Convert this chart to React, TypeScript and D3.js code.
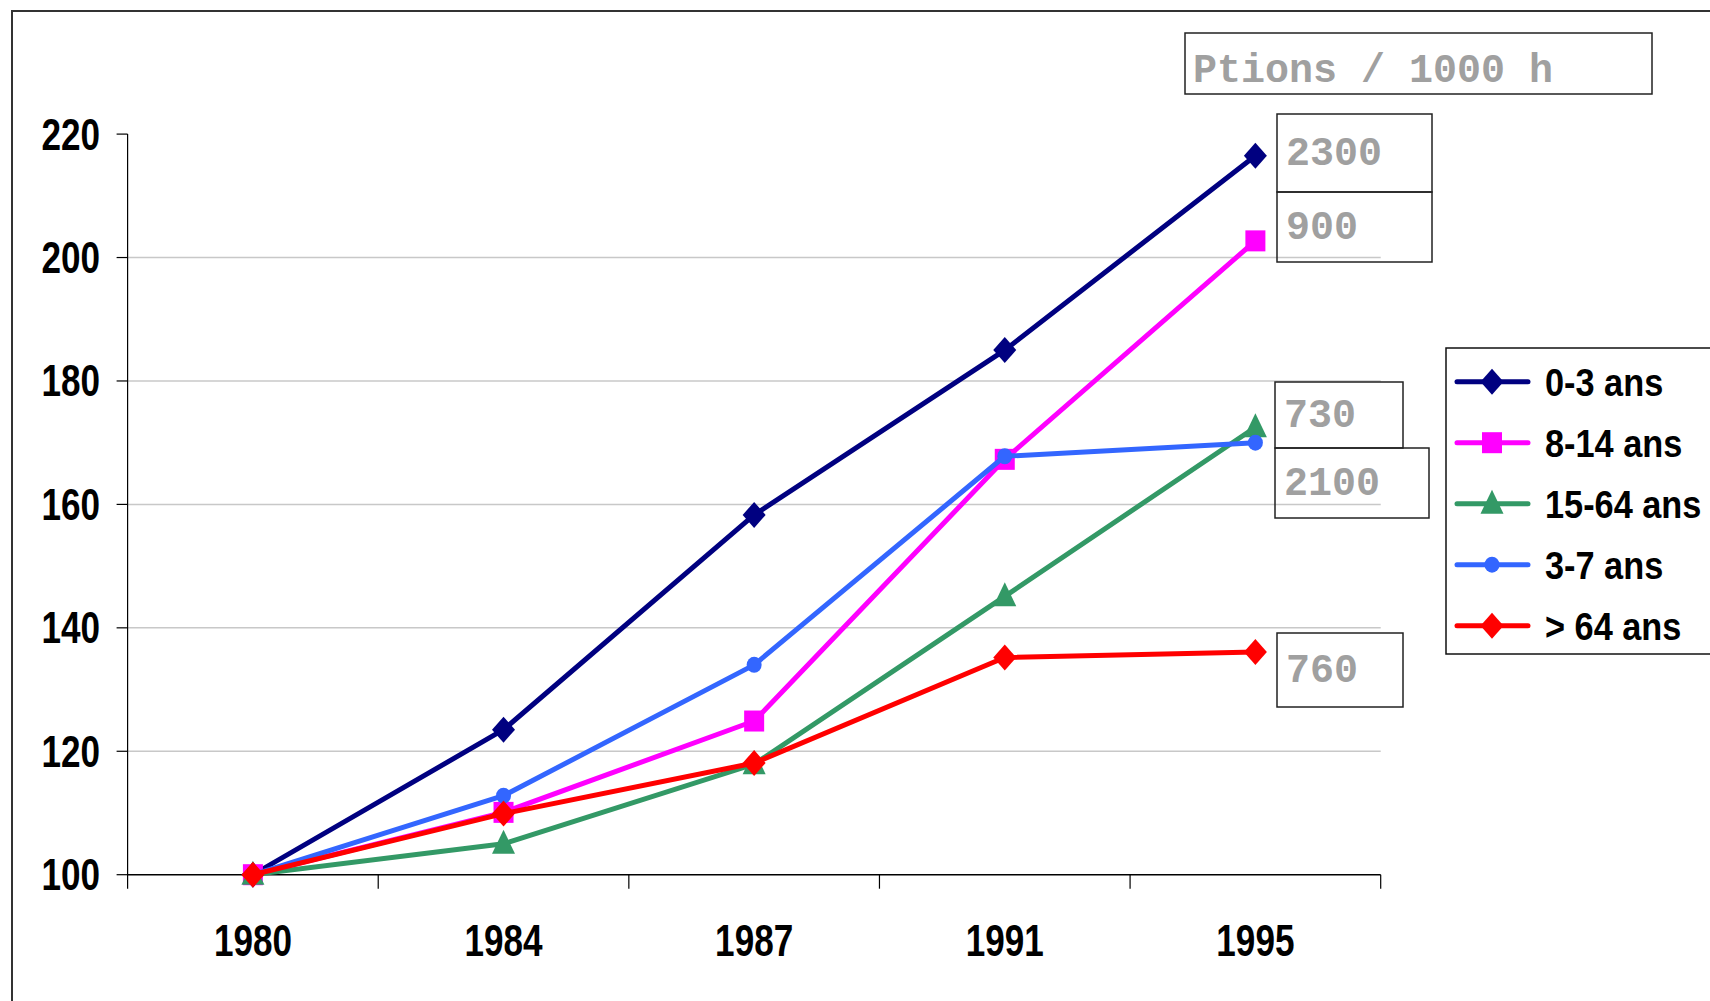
import React, { useEffect, useRef } from 'react';
import * as d3 from 'd3';

// data (index, 1980 = 100)
const years = ['1980', '1984', '1987', '1991', '1995'];
const seriesNames = ['0-3 ans', '8-14 ans', '15-64 ans', '3-7 ans', '> 64 ans'];
const age0to3 = [100, 123.5, 158.3, 185.0, 216.5];
const age8to14 = [100, 110.1, 124.9, 167.3, 202.7];
const age15to64 = [100, 105.0, 117.9, 145.1, 172.5];
const age3to7 = [100, 112.8, 134.0, 167.8, 170.0];
const age64plus = [100, 109.9, 118.1, 135.2, 136.1];
const yTicks = [100, 120, 140, 160, 180, 200, 220];
const unitLabel = 'Ptions / 1000 h';
const endLabels = ['2300', '900', '730', '2100', '760'];

const colors = ['#000080', '#FF00FF', '#339966', '#3366FF', '#FF0000'];
const markers = ['diamond', 'square', 'triangle', 'circle', 'diamond'];

// label box layout (x, y, w, h)
const labelBoxes = [
    [1277, 114, 155, 78],
    [1277, 192, 155, 70],
    [1275, 382, 128, 66],
    [1275, 448, 154, 70],
    [1277, 633, 126, 74],
];

// no narrow font installed: squeeze Liberation Sans bold horizontally
const sans = "'Liberation Sans', Arial, sans-serif";
const mono = "'Liberation Mono', 'Courier New', 'DejaVu Sans Mono', monospace";

const narrowText = (g, x, y, txt, size, squeeze, anchor) => g.append('text')
    .attr('transform', `translate(${x},${y}) scale(${squeeze},1)`)
    .attr('text-anchor', anchor)
    .attr('font-family', sans)
    .attr('font-weight', 'bold')
    .attr('font-size', size)
    .attr('fill', '#000')
    .text(txt);

const drawMarker = (g, type, x, y, color) => {
    if (type === 'diamond') {
        g.append('path')
            .attr('d', `M${x},${y - 13}L${x + 11.5},${y}L${x},${y + 13}L${x - 11.5},${y}Z`)
            .attr('fill', color);
    } else if (type === 'square') {
        g.append('rect')
            .attr('x', x - 10).attr('y', y - 10.5)
            .attr('width', 20).attr('height', 21)
            .attr('fill', color);
    } else if (type === 'triangle') {
        g.append('path')
            .attr('d', `M${x},${y - 14}L${x + 11.5},${y + 10}L${x - 11.5},${y + 10}Z`)
            .attr('fill', color);
    } else {
        g.append('ellipse')
            .attr('cx', x).attr('cy', y)
            .attr('rx', 7.5).attr('ry', 8)
            .attr('fill', color);
    }
};

const App = () => {
    const svgRef = useRef();
    const width = 1710;
    const height = 1001;
    const plot = { left: 127.6, right: 1380.7, top: 134.1, bottom: 874.7 };

    useEffect(() => {
        const series = [age0to3, age8to14, age15to64, age3to7, age64plus];

        const x = d3.scaleBand()
            .domain(years)
            .range([plot.left, plot.right])
            .padding(0);

        const y = d3.scaleLinear()
            .domain([100, 220])
            .range([plot.bottom, plot.top]);

        const svg = d3.select(svgRef.current)
            .attr('width', width)
            .attr('height', height);

        svg.selectAll('*').remove();

        svg.append('rect')
            .attr('width', width).attr('height', height)
            .attr('fill', '#ffffff');

        // outer frame
        svg.append('rect')
            .attr('x', 12).attr('y', 11)
            .attr('width', 1720).attr('height', 1010)
            .attr('fill', 'none')
            .attr('stroke', '#333333')
            .attr('stroke-width', 2);

        // gridlines
        svg.append('g')
            .selectAll('line')
            .data(yTicks.filter(t => t > 100 && t < 220))
            .enter()
            .append('line')
            .attr('x1', plot.left).attr('x2', plot.right)
            .attr('y1', d => y(d)).attr('y2', d => y(d))
            .attr('stroke', '#c8c8c8')
            .attr('stroke-width', 1.5);

        // y axis
        const yAxis = svg.append('g');
        yTicks.forEach(t => {
            yAxis.append('line')
                .attr('x1', plot.left - 11).attr('x2', plot.left)
                .attr('y1', y(t)).attr('y2', y(t))
                .attr('stroke', '#000').attr('stroke-width', 1.2);
            narrowText(yAxis, 100, y(t) + 15.5, d3.format('d')(t), 45, 0.78, 'end');
        });
        svg.append('line')
            .attr('x1', plot.left).attr('x2', plot.left)
            .attr('y1', plot.top).attr('y2', plot.bottom + 14)
            .attr('stroke', '#000').attr('stroke-width', 1.2);

        // x axis with ticks between categories
        svg.append('line')
            .attr('x1', plot.left).attr('x2', plot.right)
            .attr('y1', plot.bottom).attr('y2', plot.bottom)
            .attr('stroke', '#000').attr('stroke-width', 1.5);
        svg.append('g')
            .selectAll('line')
            .data(years.slice(1).concat(['end']))
            .enter()
            .append('line')
            .attr('x1', d => d === 'end' ? plot.right : x(d))
            .attr('x2', d => d === 'end' ? plot.right : x(d))
            .attr('y1', plot.bottom).attr('y2', plot.bottom + 14)
            .attr('stroke', '#000').attr('stroke-width', 1.2);
        const xLabels = svg.append('g');
        years.forEach(yr => {
            narrowText(xLabels, x(yr) + x.bandwidth() / 2, 956, yr, 45, 0.78, 'middle');
        });

        // lines
        const line = d3.line()
            .x((d, i) => x(years[i]) + x.bandwidth() / 2)
            .y(d => y(d));

        series.forEach((values, s) => {
            svg.append('path')
                .datum(values)
                .attr('fill', 'none')
                .attr('stroke', colors[s])
                .attr('stroke-width', 5)
                .attr('stroke-linejoin', 'round')
                .attr('d', line);
            const g = svg.append('g');
            values.forEach((v, i) => {
                drawMarker(g, markers[s], x(years[i]) + x.bandwidth() / 2, y(v), colors[s]);
            });
        });

        // unit title box
        svg.append('rect')
            .attr('x', 1185).attr('y', 33)
            .attr('width', 467).attr('height', 61)
            .attr('fill', 'none')
            .attr('stroke', '#222').attr('stroke-width', 1.5);
        svg.append('text')
            .attr('x', 1193).attr('y', 82)
            .attr('font-family', mono)
            .attr('font-weight', 'bold')
            .attr('font-size', 40)
            .attr('fill', '#a0a0a0')
            .text(unitLabel);

        // end value boxes
        endLabels.forEach((label, i) => {
            const [bx, by, bw, bh] = labelBoxes[i];
            svg.append('rect')
                .attr('x', bx).attr('y', by)
                .attr('width', bw).attr('height', bh)
                .attr('fill', 'none')
                .attr('stroke', '#222').attr('stroke-width', 1.5);
            svg.append('text')
                .attr('x', bx + 9)
                .attr('y', by + bh / 2 + 12)
                .attr('font-family', mono)
                .attr('font-weight', 'bold')
                .attr('font-size', 40)
                .attr('fill', '#a0a0a0')
                .text(label);
        });

        // legend
        const legend = svg.append('g');
        legend.append('rect')
            .attr('x', 1446).attr('y', 348)
            .attr('width', 300).attr('height', 306)
            .attr('fill', '#ffffff')
            .attr('stroke', '#111').attr('stroke-width', 1.5);
        seriesNames.forEach((name, s) => {
            const ly = 381.7 + s * 61;
            legend.append('line')
                .attr('x1', 1457).attr('x2', 1528)
                .attr('y1', ly).attr('y2', ly)
                .attr('stroke', colors[s])
                .attr('stroke-width', 5)
                .attr('stroke-linecap', 'round');
            drawMarker(legend, markers[s], 1492, ly, colors[s]);
            narrowText(legend, 1545, ly + 14, name, 39, 0.88, 'start');
        });
    }, []);

    return (
        <svg
            ref={svgRef}
            style={{ position: 'absolute', left: 0, top: 0, display: 'block' }}
        ></svg>
    );
};

export default App;
